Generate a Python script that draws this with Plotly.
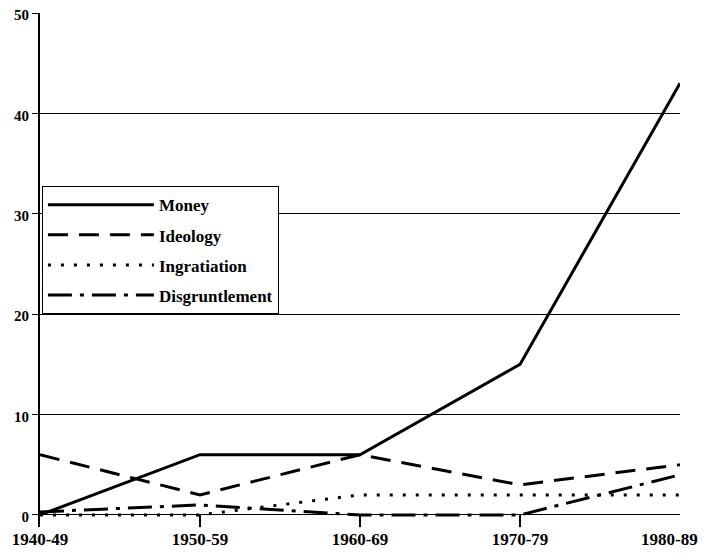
import plotly.graph_objects as go

decades = ["1940-49", "1950-59", "1960-69", "1970-79", "1980-89\u00a0\u00a0\u00a0\u00a0\u00a0"]
money = [0, 6, 6, 15, 43]
ideology = [6, 2, 6, 3, 5]
ingratiation = [0, 0, 2, 2, 2]
disgruntlement = [0.3, 1, 0, 0, 4]
y_ticks = [0, 10, 20, 30, 40, 50]

series = [
    ("Money", money, "solid"),
    ("Ideology", ideology, "20px,11px"),
    ("Ingratiation", ingratiation, "3px,10px"),
    ("Disgruntlement", disgruntlement, "24px,8px,4px,8px"),
]

fig = go.Figure()
for i, (name, vals, dash) in enumerate(series):
    fig.add_trace(go.Scatter(
        x=list(range(len(decades))), y=vals, name=name, mode="lines",
        line=dict(color="black", width=3, dash=dash),
        legendgroup=f"g{i}",
    ))

xfont = dict(family="Liberation Serif", size=17, color="black", weight="bold")
yfont = dict(family="Liberation Serif", size=15, color="black", weight="bold")
fig.update_layout(
    width=700, height=552,
    margin=dict(l=32, r=28, t=5, b=33),
    paper_bgcolor="white", plot_bgcolor="white",
    font=dict(family="Liberation Serif", size=17, color="black"),
    showlegend=True,
    legend=dict(
        x=0.003, y=0.663, xanchor="left", yanchor="top",
        bgcolor="white", bordercolor="black", borderwidth=1,
        font=dict(family="Liberation Serif", size=17, color="black", weight="bold"),
        tracegroupgap=5, traceorder="grouped", itemwidth=106, entrywidth=242,
    ),
    xaxis=dict(
        range=[0, 4], tickmode="array", tickvals=list(range(len(decades))),
        ticktext=decades, showgrid=False, zeroline=False, showline=False,
        ticks="inside", ticklen=12, tickwidth=1.5, tickcolor="black",
        tickfont=xfont, automargin=False, ticklabeloverflow="allow",
    ),
    yaxis=dict(
        range=[-1.2, 50], tickmode="array", tickvals=y_ticks,
        showgrid=True, gridcolor="black", gridwidth=1,
        zeroline=False, showline=True, linecolor="black", linewidth=2,
        ticks="outside", ticklen=6, tickcolor="black",
        tickfont=yfont, automargin=False, ticklabeloverflow="allow",
        ticklabelshift=2,
    ),
)
fig.write_html("out.html")
